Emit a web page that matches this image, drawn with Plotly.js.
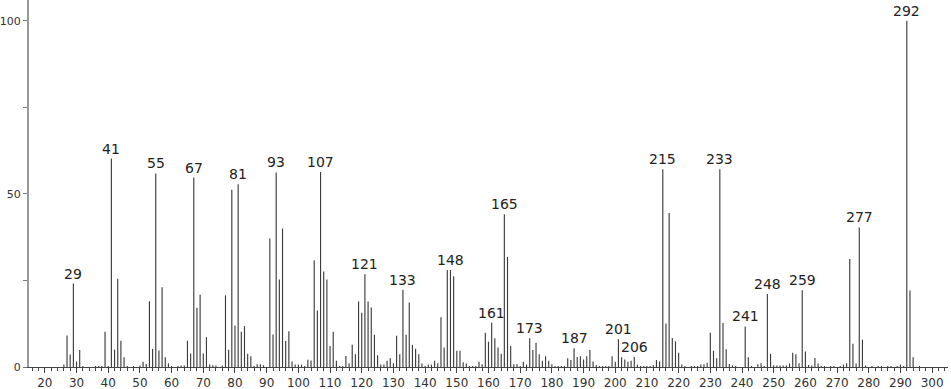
<!DOCTYPE html>
<html>
<head>
<meta charset="utf-8">
<script src="https://cdn.plot.ly/plotly-3.0.1.min.js"></script>
<style>html,body{margin:0;padding:0;background:#fff;}#chart{width:951px;height:389px;}</style>
</head>
<body>
<div id="chart"></div>
<script>
// m/z values and relative intensities
const mz = [26,27,28,29,30,31,32,36,37,38,39,40,41,42,43,44,45,46,48,50,51,52,53,54,55,56,57,58,59,60,62,63,64,65,66,67,68,69,70,71,72,73,74,76,77,78,79,80,81,82,83,84,85,86,87,88,89,91,92,93,94,95,96,97,98,99,100,101,102,103,104,105,106,107,108,109,110,111,112,113,114,115,116,117,118,119,120,121,122,123,124,125,126,127,128,129,130,131,132,133,134,135,136,137,138,139,140,141,142,143,144,145,146,147,148,149,150,151,152,153,154,155,156,157,158,159,160,161,162,163,164,165,166,167,168,169,170,171,172,173,174,175,176,177,178,179,180,181,182,183,184,185,186,187,188,189,190,191,192,193,194,195,196,197,198,199,200,201,202,203,204,205,206,207,208,209,210,211,212,213,214,215,216,217,218,219,220,221,222,224,225,226,227,228,229,230,231,232,233,234,235,236,237,238,241,242,243,245,246,247,248,249,250,251,252,253,254,255,256,257,258,259,260,261,262,263,264,265,266,268,269,271,272,273,274,275,276,277,278,279,281,283,284,286,287,289,290,291,292,293,294,296];
const intensity = [0.7,9.1,3.6,24.1,1.6,4.9,0.3,0.3,0.3,0.3,10.2,0.3,60.2,5.0,25.5,7.6,2.8,0.3,0.3,0.4,1.5,0.9,19.0,5.2,55.9,4.8,23.0,2.8,1.1,0.3,0.3,0.4,0.4,7.6,3.9,54.7,17.1,20.9,3.9,8.6,0.7,0.5,0.4,0.4,20.7,5.0,51.2,12.0,52.8,10.2,11.8,3.8,3.1,0.3,0.8,0.8,0.5,37.1,9.4,56.2,25.3,40.0,7.5,10.3,1.6,0.7,0.7,0.7,0.3,2.1,1.9,30.8,16.3,56.3,27.6,25.3,6.1,10.2,1.8,0.3,0.3,3.2,1.1,6.4,3.7,18.9,15.7,26.8,18.9,17.2,9.3,3.4,0.7,0.7,1.8,2.5,1.1,9.0,3.7,22.3,9.3,18.6,6.4,5.3,3.7,1.0,0.3,0.7,0.7,1.8,1.1,14.4,5.6,28.0,28.0,26.2,4.7,4.7,1.4,1.0,0.3,0.3,0.3,1.5,0.8,9.9,7.3,12.8,8.3,5.6,3.8,44.1,31.8,6.1,0.8,0.8,0.3,1.5,0.7,8.3,4.9,7.0,3.7,1.8,3.1,1.8,0.8,0.3,0.3,0.3,0.3,2.5,2.0,5.4,2.9,3.1,2.2,3.1,4.9,1.6,0.6,0.3,0.3,0.3,0.3,3.1,1.5,8.0,2.8,2.2,1.5,1.8,2.9,0.7,0.3,0.3,0.3,0.3,0.5,2.0,1.6,57.1,12.6,44.5,8.4,7.4,4.1,0.7,0.3,0.3,0.3,0.3,0.7,0.8,1.2,9.9,4.7,2.5,57.1,12.7,5.1,0.9,0.5,0.3,11.7,2.8,0.3,0.8,1.1,0.3,21.1,3.8,0.5,0.4,0.4,0.4,0.5,1.0,4.1,3.7,1.1,22.2,4.5,0.6,0.4,2.6,1.0,0.3,0.3,0.3,0.3,0.3,0.7,1.1,31.2,6.7,1.0,40.3,7.9,0.4,0.3,0.3,0.3,0.3,0.3,0.3,0.7,0.3,100,22.1,2.8,0.3];
// peaks carrying a label
const labelMz = [29,41,55,67,81,93,107,121,133,148,161,165,173,187,201,206,215,233,241,248,259,277,292];
// axis ticks
const yTickVals = [0,25,50,75,100];
const yTickText = ['0','','50','','100'];

const font = 'DejaVu Sans, sans-serif';
const annotations = labelMz.map(function(m){
  const i = mz.indexOf(m);
  return {x: m, y: intensity[i], xref:'x', yref:'y', text: String(m), showarrow:false,
          yanchor:'bottom', xanchor:'center', yshift:0, font:{family:font, size:14, color:'#222'}};
});

const trace = {
  type:'bar', x: mz, y: intensity, width: 0.36,
  marker:{color:'#3c3c3c', line:{width:0}},
  hoverinfo:'x+y'
};

const layout = {
  width:951, height:389,
  margin:{l:29, r:3, t:0, b:22, pad:0},
  paper_bgcolor:'#fff', plot_bgcolor:'#fff',
  showlegend:false,
  xaxis:{range:[15,305], showgrid:false, zeroline:false, showline:true, linecolor:'#444', linewidth:1,
         ticks:'outside', tick0:20, dtick:10, ticklen:5, tickcolor:'#444', tickwidth:1,
         minor:{dtick:2, tick0:20, ticks:'outside', ticklen:3, tickcolor:'#444', showgrid:false},
         tickfont:{family:font, size:12, color:'#333'}},
  yaxis:{range:[0,106], showgrid:false, zeroline:false, showline:true, linecolor:'#999', linewidth:2,
         ticks:'outside', tickmode:'array', tickvals:yTickVals, ticktext:yTickText, ticklen:4, tickcolor:'#777',
         tickfont:{family:font, size:11, color:'#333'}},
  annotations: annotations
};

Plotly.newPlot('chart', [trace], layout, {staticPlot:true, displayModeBar:false});
</script>
</body>
</html>
